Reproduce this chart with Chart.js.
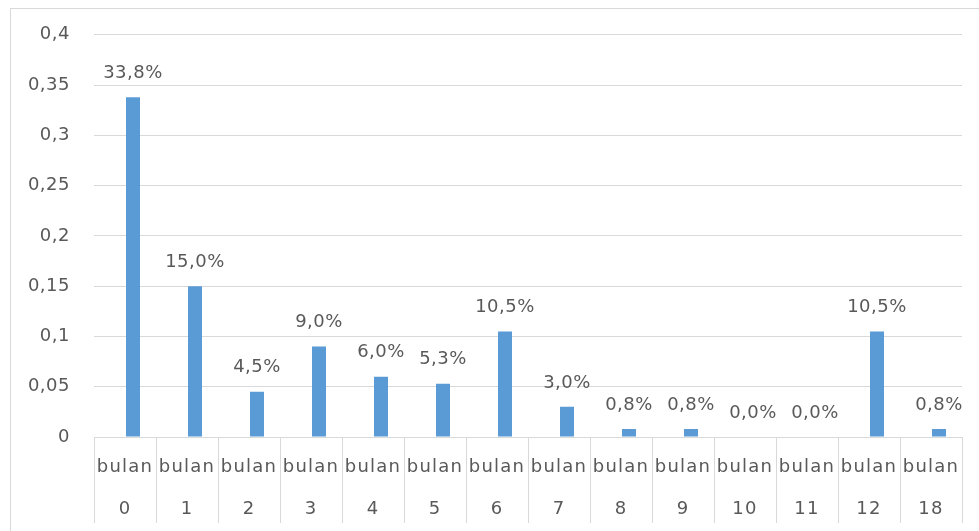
<!DOCTYPE html>
<html>
<head>
<meta charset="utf-8">
<script src="https://cdn.jsdelivr.net/npm/chart.js@4/dist/chart.umd.min.js"></script>
<style>
  html, body { margin: 0; padding: 0; background: #fff; }
  #wrap { position: relative; width: 979px; height: 531px; overflow: hidden; }
  #frame { position: absolute; left: 10px; top: 8px; width: 990px; height: 560px; border: 1px solid #d9d9d9; box-sizing: border-box; pointer-events: none; }
  canvas { position: absolute; left: 0; top: 0; }
</style>
</head>
<body>
<div id="wrap">
  <div id="frame"></div>
  <canvas id="c" width="979" height="531"></canvas>
</div>
<script>
const categories = ['0', '1', '2', '3', '4', '5', '6', '7', '8', '9', '10', '11', '12', '18'];
const unitLabel = 'bulan';
const values = [0.338, 0.150, 0.045, 0.090, 0.060, 0.053, 0.105, 0.030, 0.008, 0.008, 0.000, 0.000, 0.105, 0.008];
const yTicks = [0, 0.05, 0.1, 0.15, 0.2, 0.25, 0.3, 0.35, 0.4];

const FONT = '"DejaVu Sans", sans-serif';
const TEXT = '#595959';
const GRID = '#d9d9d9';
const SPACING = '0.5px';
const X_SPACING = '1.2px';

const fmtTick = v => String(Math.round(v * 100) / 100).replace('.', ',');
const fmtPct = v => (v * 100).toFixed(1).replace('.', ',') + '%';

const spacingPlugin = {
  id: 'spacing',
  beforeDraw(chart) { chart.ctx.letterSpacing = SPACING; },
  afterDatasetsDraw(chart) { chart.ctx.letterSpacing = X_SPACING; }
};

const labelPlugin = {
  id: 'barLabels',
  afterDatasetsDraw(chart) {
    const ctx = chart.ctx;
    const meta = chart.getDatasetMeta(1);
    ctx.save();
    ctx.letterSpacing = SPACING;
    ctx.font = '18px ' + FONT;
    ctx.fillStyle = TEXT;
    ctx.textAlign = 'center';
    ctx.textBaseline = 'middle';
    meta.data.forEach((bar, i) => {
      const y = chart.scales.y.getPixelForValue(values[i]);
      ctx.fillText(fmtPct(values[i]), bar.x, y - 24);
    });
    ctx.restore();
  }
};

new Chart(document.getElementById('c'), {
  type: 'bar',
  data: {
    labels: categories.map(c => [unitLabel, c]),
    datasets: [
      { label: 'spacer', data: categories.map(() => null), backgroundColor: 'rgba(0,0,0,0)' },
      { label: 'Persentase', data: values, backgroundColor: '#5B9BD5', borderWidth: 0 }
    ]
  },
  options: {
    responsive: false,
    animation: false,
    events: [],
    categoryPercentage: 0.516,
    barPercentage: 0.875,
    layout: { padding: { top: 34, right: 17, left: 0, bottom: 0 } },
    plugins: { legend: { display: false }, tooltip: { enabled: false } },
    scales: {
      x: {
        grid: { offset: true, drawOnChartArea: false, drawTicks: true, tickLength: 86, color: GRID, lineWidth: 1 },
        border: { display: true, color: GRID, width: 1 },
        ticks: { z: 1, color: TEXT, font: { family: FONT, size: 18, lineHeight: 42 / 18 }, padding: -77, maxRotation: 0, autoSkip: false },
        afterFit(scale) { scale.height = 94; }
      },
      y: {
        min: 0, max: 0.4,
        afterBuildTicks(scale) { scale.ticks = yTicks.map(v => ({ value: v })); },
        grid: { color: GRID, lineWidth: 1, drawTicks: false },
        border: { display: false },
        ticks: { color: TEXT, font: { family: FONT, size: 18 }, padding: 24, callback: v => fmtTick(v) },
        afterFit(scale) { scale.width = 94; }
      }
    }
  },
  plugins: [spacingPlugin, labelPlugin]
});
</script>
</body>
</html>
